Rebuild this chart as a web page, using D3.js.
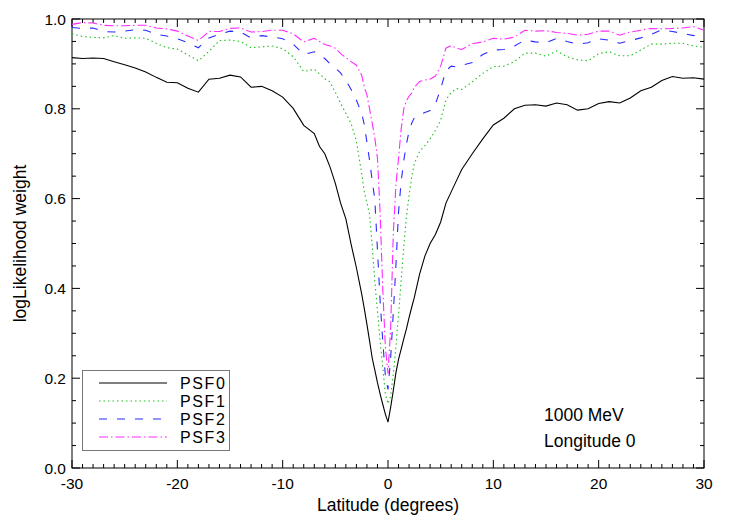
<!DOCTYPE html>
<html>
<head>
<meta charset="utf-8">
<script src="https://d3js.org/d3.v7.min.js"></script>
<style>
body { margin: 0; background: #fff; }
text { font-family: "Liberation Sans", Arial, sans-serif; font-size: 17.5px; fill: #000; }
text.tick { font-size: 15.5px; }
text.leg { font-size: 16px; letter-spacing: 1.6px; }
</style>
</head>
<body>
<svg width="729" height="526"></svg>
<script>
// latitude grid (degrees), finer near the plane
var lat = [-30,-29,-28,-27,-26,-25,-24,-23,-22,-21,-20,-19,-18,-17,-16,-15,-14,-13,-12,-11,-10,-9,-8,-7,
  -6.5,-6,-5.5,-5,-4.5,-4,-3.5,-3,-2.5,
  -2.25,-2,-1.75,-1.5,-1.25,-1,-0.75,-0.5,-0.25,0,0.25,0.5,0.75,1,1.25,1.5,1.75,2,2.25,
  2.5,3,3.5,4,4.5,5,5.5,6,6.5,
  7,8,9,10,11,12,13,14,15,16,17,18,19,20,21,22,23,24,25,26,27,28,29,30];

var psf0 = [.914,.912,.913,.912,.905,.898,.891,.882,.870,.859,.858,.846,.837,.866,.868,.875,.871,.848,.850,.840,.826,.801,.763,.745,
  .716,.700,.670,.634,.590,.555,.498,.446,.388,
  .355,.320,.283,.245,.218,.190,.165,.142,.120,.102,.135,.172,.212,.242,.265,.288,.310,.335,.358,
  .380,.432,.472,.500,.520,.548,.590,.615,.640,
  .665,.700,.733,.764,.779,.800,.808,.809,.806,.813,.809,.797,.800,.812,.816,.813,.824,.840,.848,.863,.872,.868,.869,.866];

var psf1 = [.967,.961,.959,.958,.963,.957,.958,.957,.946,.936,.933,.920,.907,.928,.952,.953,.950,.936,.938,.940,.934,.916,.883,.888,
  .878,.867,.860,.837,.812,.790,.767,.728,.656,
  .615,.590,.565,.495,.416,.350,.283,.225,.165,.143,.160,.208,.270,.342,.418,.493,.560,.607,.648,
  .678,.705,.718,.733,.752,.775,.820,.836,.845,
  .843,.860,.879,.894,.895,.905,.924,.924,.917,.929,.916,.909,.907,.923,.927,.918,.918,.931,.944,.944,.946,.946,.940,.937];

var psf2 = [.981,.979,.980,.972,.971,.973,.976,.975,.966,.962,.956,.947,.936,.958,.966,.973,.971,.958,.963,.960,.956,.944,.921,.927,
  .920,.912,.900,.891,.880,.863,.843,.819,.790,
  .765,.725,.685,.640,.598,.485,.373,.284,.205,.175,.245,.345,.450,.570,.638,.685,.722,.750,.768,
  .780,.787,.792,.796,.810,.845,.885,.895,.893,
  .897,.903,.921,.931,.932,.940,.953,.949,.947,.957,.950,.944,.947,.956,.953,.946,.952,.958,.966,.976,.972,.968,.963,.970];

var psf3 = [.988,.992,.991,.986,.985,.985,.986,.986,.980,.978,.973,.962,.952,.972,.972,.979,.980,.971,.972,.975,.975,.967,.949,.957,
  .950,.943,.940,.935,.923,.914,.905,.897,.875,
  .848,.831,.800,.768,.735,.690,.570,.400,.270,.210,.310,.520,.630,.690,.755,.800,.818,.828,.835,
  .848,.861,.864,.866,.873,.895,.935,.941,.935,
  .932,.945,.949,.957,.955,.960,.975,.973,.974,.970,.968,.964,.966,.973,.973,.964,.971,.975,.979,.978,.979,.980,.983,.975];

var seriesNames = ["PSF0", "PSF1", "PSF2", "PSF3"];
var seriesValues = [psf0, psf1, psf2, psf3];
var seriesColors = ["#000000", "#1ec01e", "#2a2aff", "#ff2aff"];
var seriesDash = ["none", "1.5,3", "8,10", "9,3,1.5,3"];

var xTicks = [-30, -20, -10, 0, 10, 20, 30];
var yTicks = [0.0, 0.2, 0.4, 0.6, 0.8, 1.0];

(function() {
var svg = d3.select("svg"),
    x0 = 72, x1 = 704, y0 = 19, y1 = 468;

var x = d3.scaleLinear().domain([-30, 30]).range([x0, x1]);
var y = d3.scaleLinear().domain([0, 1]).range([y1, y0]);

// frame
svg.append("rect")
    .attr("x", x0).attr("y", y0)
    .attr("width", x1 - x0).attr("height", y1 - y0)
    .attr("fill", "none").attr("stroke", "#000").attr("stroke-width", 1);

// ticks on all four sides (pointing inward)
var g = svg.append("g").attr("stroke", "#000").attr("stroke-width", 1);
d3.range(-30, 31, 1).forEach(function(v) {
  var len = (v % 10 === 0) ? 8 : 4;
  g.append("line").attr("x1", x(v)).attr("x2", x(v)).attr("y1", y1).attr("y2", y1 - len);
  g.append("line").attr("x1", x(v)).attr("x2", x(v)).attr("y1", y0).attr("y2", y0 + len);
});
d3.range(0, 21, 1).forEach(function(i) {
  var v = i * 0.05, len = (i % 4 === 0) ? 8 : 4;
  g.append("line").attr("y1", y(v)).attr("y2", y(v)).attr("x1", x0).attr("x2", x0 + len);
  g.append("line").attr("y1", y(v)).attr("y2", y(v)).attr("x1", x1).attr("x2", x1 - len);
});

svg.selectAll(".xl").data(xTicks).enter().append("text")
    .attr("class", "tick")
    .attr("x", function(d) { return x(d); })
    .attr("y", 489)
    .attr("text-anchor", "middle")
    .text(function(d) { return d; });

svg.selectAll(".yl").data(yTicks).enter().append("text")
    .attr("class", "tick")
    .attr("x", 66)
    .attr("y", function(d) { return y(d) + 5.5; })
    .attr("text-anchor", "end")
    .text(function(d) { return d.toFixed(1); });

svg.append("text")
    .attr("x", (x0 + x1) / 2).attr("y", 511)
    .attr("text-anchor", "middle")
    .text("Latitude (degrees)");

svg.append("text")
    .attr("transform", "translate(26," + ((y0 + y1) / 2) + ") rotate(-90)")
    .attr("text-anchor", "middle")
    .text("logLikelihood weight");

// curves
var line = d3.line()
    .x(function(d, i) { return x(lat[i]); })
    .y(function(d) { return y(d); });

var plot = svg.append("g");
seriesValues.forEach(function(vals, k) {
  plot.append("path")
      .attr("d", line(vals))
      .style("fill", "none")
      .style("stroke", seriesColors[k])
      .style("stroke-width", 1.1)
      .style("stroke-dasharray", seriesDash[k]);
});

// legend
var leg = svg.append("g");
leg.append("rect")
    .attr("x", 82.5).attr("y", 370.5).attr("width", 147).attr("height", 80)
    .style("fill", "#fff").style("stroke", "#777").style("stroke-width", 1);
seriesNames.forEach(function(name, k) {
  var yy = 383 + k * 18;
  leg.append("path")
      .attr("d", "M99," + yy + "H167")
      .style("fill", "none")
      .style("stroke", seriesColors[k])
      .style("stroke-width", 1.1)
      .style("stroke-dasharray", seriesDash[k]);
  leg.append("text").attr("class", "leg").attr("x", 180).attr("y", yy + 6).text(name);
});

svg.append("text").attr("x", 544).attr("y", 421).text("1000 MeV");
svg.append("text").attr("x", 544).attr("y", 447).text("Longitude 0");
})();
</script>
</body>
</html>
